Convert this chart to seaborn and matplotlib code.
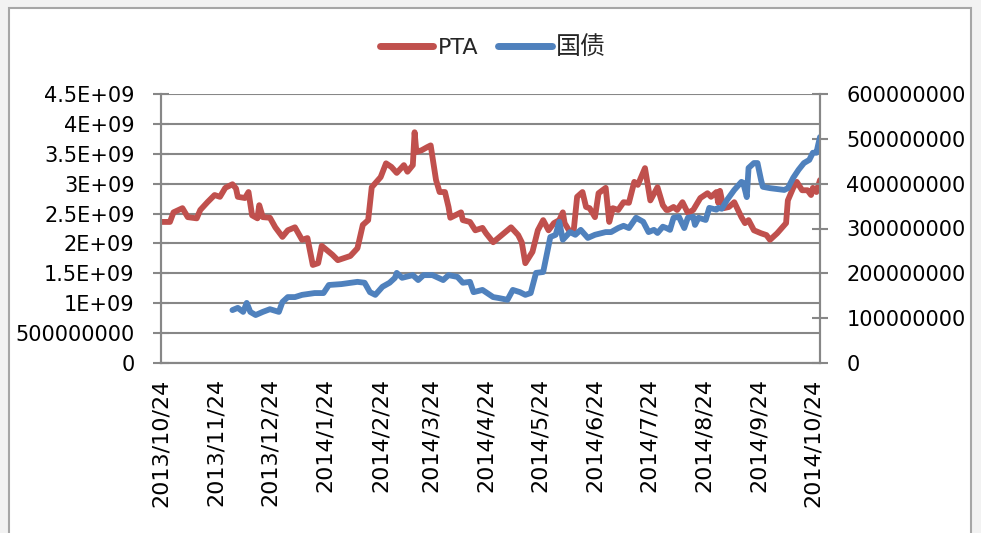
import matplotlib
matplotlib.use("Agg")
import matplotlib.pyplot as plt
from matplotlib.patches import Rectangle
import seaborn as sns
import pandas as pd

sns.set_style("white")
plt.rcParams['font.family'] = ['DejaVu Sans', 'Noto Sans CJK SC']

# PTA (left axis)
pta_dates = ['2013-10-24', '2013-10-29', '2013-10-31', '2013-11-05', '2013-11-08', '2013-11-13',
             '2013-11-15', '2013-11-19', '2013-11-23', '2013-11-26', '2013-11-29', '2013-12-03',
             '2013-12-05', '2013-12-06', '2013-12-10', '2013-12-12', '2013-12-14', '2013-12-17',
             '2013-12-18', '2013-12-20', '2013-12-24', '2013-12-27', '2013-12-31', '2014-01-03',
             '2014-01-07', '2014-01-11', '2014-01-14', '2014-01-17', '2014-01-20', '2014-01-22',
             '2014-01-26', '2014-01-28', '2014-01-31', '2014-02-07', '2014-02-11', '2014-02-14',
             '2014-02-17', '2014-02-19', '2014-02-24', '2014-02-27', '2014-03-02', '2014-03-05',
             '2014-03-09', '2014-03-11', '2014-03-14', '2014-03-15', '2014-03-16', '2014-03-19',
             '2014-03-22', '2014-03-24', '2014-03-27', '2014-03-29', '2014-04-01', '2014-04-03',
             '2014-04-04', '2014-04-10', '2014-04-11', '2014-04-15', '2014-04-18', '2014-04-22',
             '2014-04-24', '2014-04-28', '2014-05-02', '2014-05-08', '2014-05-12', '2014-05-14',
             '2014-05-16', '2014-05-20', '2014-05-23', '2014-05-26', '2014-05-29', '2014-06-01',
             '2014-06-04', '2014-06-06', '2014-06-07', '2014-06-10', '2014-06-12', '2014-06-14',
             '2014-06-17', '2014-06-19', '2014-06-21', '2014-06-24', '2014-06-26', '2014-06-30',
             '2014-07-02', '2014-07-04', '2014-07-07', '2014-07-10', '2014-07-13', '2014-07-16',
             '2014-07-18', '2014-07-22', '2014-07-25', '2014-07-29', '2014-08-01', '2014-08-03',
             '2014-08-04', '2014-08-07', '2014-08-09', '2014-08-12', '2014-08-15', '2014-08-18',
             '2014-08-22', '2014-08-26', '2014-08-28', '2014-08-31', '2014-09-01', '2014-09-02',
             '2014-09-04', '2014-09-07', '2014-09-10', '2014-09-14', '2014-09-16', '2014-09-18',
             '2014-09-21', '2014-09-25', '2014-09-28', '2014-09-30', '2014-10-04', '2014-10-09',
             '2014-10-10', '2014-10-13', '2014-10-15', '2014-10-18', '2014-10-21', '2014-10-23',
             '2014-10-24', '2014-10-26', '2014-10-28']
pta_values = [2.36, 2.36, 2.52, 2.59, 2.44, 2.42, 2.56, 2.69, 2.81, 2.78, 2.93, 2.99,
              2.92, 2.78, 2.76, 2.86, 2.47, 2.42, 2.64, 2.44, 2.43, 2.27, 2.11, 2.22,
              2.27, 2.06, 2.09, 1.64, 1.67, 1.96, 1.86, 1.81, 1.72, 1.79, 1.92, 2.31,
              2.39, 2.94, 3.11, 3.34, 3.28, 3.18, 3.31, 3.20, 3.31, 3.86, 3.53, 3.56,
              3.61, 3.64, 3.06, 2.86, 2.86, 2.61, 2.43, 2.52, 2.39, 2.36, 2.22, 2.26,
              2.17, 2.02, 2.12, 2.27, 2.14, 2.02, 1.67, 1.86, 2.22, 2.39, 2.22, 2.34,
              2.39, 2.52, 2.34, 2.19, 2.19, 2.78, 2.86, 2.61, 2.59, 2.44, 2.84, 2.93,
              2.36, 2.59, 2.56, 2.69, 2.68, 3.03, 2.98, 3.26, 2.72, 2.94, 2.64, 2.56,
              2.56, 2.61, 2.56, 2.69, 2.51, 2.56, 2.76, 2.84, 2.78, 2.86, 2.68, 2.88,
              2.59, 2.61, 2.69, 2.44, 2.34, 2.39, 2.22, 2.17, 2.14, 2.06, 2.17, 2.34,
              2.72, 2.93, 3.03, 2.89, 2.89, 2.81, 2.93, 2.86, 3.06]  # x 1e9

# 国债 (right axis)
bond_dates = ['2013-12-03', '2013-12-06', '2013-12-09', '2013-12-11', '2013-12-13', '2013-12-16',
              '2013-12-20', '2013-12-24', '2013-12-29', '2013-12-31', '2014-01-03', '2014-01-07',
              '2014-01-11', '2014-01-18', '2014-01-23', '2014-01-26', '2014-02-02', '2014-02-11',
              '2014-02-15', '2014-02-18', '2014-02-21', '2014-02-25', '2014-03-01', '2014-03-04',
              '2014-03-05', '2014-03-08', '2014-03-14', '2014-03-17', '2014-03-20', '2014-03-25',
              '2014-03-31', '2014-04-03', '2014-04-08', '2014-04-11', '2014-04-15', '2014-04-17',
              '2014-04-22', '2014-04-28', '2014-05-01', '2014-05-06', '2014-05-09', '2014-05-13',
              '2014-05-16', '2014-05-19', '2014-05-22', '2014-05-26', '2014-05-30', '2014-06-02',
              '2014-06-04', '2014-06-06', '2014-06-10', '2014-06-13', '2014-06-16', '2014-06-20',
              '2014-06-24', '2014-06-30', '2014-07-03', '2014-07-07', '2014-07-10', '2014-07-13',
              '2014-07-17', '2014-07-21', '2014-07-24', '2014-07-27', '2014-07-29', '2014-08-01',
              '2014-08-03', '2014-08-05', '2014-08-07', '2014-08-10', '2014-08-13', '2014-08-15',
              '2014-08-18', '2014-08-19', '2014-08-21', '2014-08-25', '2014-08-27', '2014-08-31',
              '2014-09-01', '2014-09-03', '2014-09-06', '2014-09-10', '2014-09-14', '2014-09-15',
              '2014-09-17', '2014-09-18', '2014-09-21', '2014-09-23', '2014-09-25', '2014-09-26',
              '2014-09-30', '2014-10-08', '2014-10-10', '2014-10-13', '2014-10-16', '2014-10-19',
              '2014-10-22', '2014-10-24', '2014-10-26', '2014-10-27', '2014-10-28']
bond_values = [118, 123, 114, 134, 114, 107, 114, 120, 114, 136, 147, 147,
               152, 156, 156, 174, 176, 181, 179, 158, 152, 170, 179, 190,
               201, 190, 196, 185, 196, 196, 185, 196, 192, 179, 181, 158,
               163, 147, 145, 141, 163, 158, 152, 156, 201, 203, 281, 286,
               315, 275, 292, 286, 297, 279, 286, 292, 292, 301, 306, 301,
               324, 315, 292, 297, 290, 304, 301, 297, 324, 326, 301, 324,
               326, 308, 324, 319, 346, 342, 346, 344, 364, 386, 404, 402,
               370, 435, 446, 446, 408, 393, 390, 386, 390, 413, 431, 446,
               453, 469, 469, 487, 504]  # x 1e6

tick_dates = ['2013-10-24', '2013-11-24', '2013-12-24', '2014-01-24', '2014-02-24', '2014-03-24',
              '2014-04-24', '2014-05-24', '2014-06-24', '2014-07-24', '2014-08-24', '2014-09-24',
              '2014-10-24']
tick_labels = ['2013/10/24', '2013/11/24', '2013/12/24', '2014/1/24', '2014/2/24', '2014/3/24',
               '2014/4/24', '2014/5/24', '2014/6/24', '2014/7/24', '2014/8/24', '2014/9/24',
               '2014/10/24']
left_ticks = [0, 0.5e9, 1e9, 1.5e9, 2e9, 2.5e9, 3e9, 3.5e9, 4e9, 4.5e9]
left_labels = ['0', '500000000', '1E+09', '1.5E+09', '2E+09', '2.5E+09', '3E+09',
               '3.5E+09', '4E+09', '4.5E+09']
right_ticks = [0, 1e8, 2e8, 3e8, 4e8, 5e8, 6e8]
right_labels = ['0', '100000000', '200000000', '300000000', '400000000', '500000000', '600000000']

pta = pd.DataFrame({'date': pd.to_datetime(pta_dates), 'v': [v * 1e9 for v in pta_values]})
bond = pd.DataFrame({'date': pd.to_datetime(bond_dates), 'v': [v * 1e6 for v in bond_values]})

red = '#c0504d'
blue = '#4f81bd'
grid_c = '#878787'

fig = plt.figure(figsize=(9.81, 5.33), dpi=100, facecolor='#f2f2f2')
fig.patches.append(Rectangle((9 / 981, -0.05), 962 / 981, 1.05 - 8 / 533, transform=fig.transFigure,
                             facecolor='white', edgecolor='#a6a6a6', linewidth=1.5, zorder=-5))
ax = fig.add_axes([161 / 981, 1 - 363 / 533, 659 / 981, 269 / 533])
ax.set_facecolor('none')
ax2 = ax.twinx()

sns.lineplot(data=pta, x='date', y='v', ax=ax, color=red, linewidth=4.2, legend=False)
sns.lineplot(data=bond, x='date', y='v', ax=ax2, color=blue, linewidth=4.2, legend=False)

ax.set_xlim(pd.Timestamp('2013-10-24'), pd.Timestamp('2014-10-28'))
ax.set_ylim(0, 4.5e9)
ax2.set_ylim(0, 6e8)

ax.set_yticks(left_ticks)
ax.set_yticklabels(left_labels)
ax2.set_yticks(right_ticks)
ax2.set_yticklabels(right_labels)
ax.set_xticks(pd.to_datetime(tick_dates))
ax.set_xticklabels(tick_labels, rotation=90)

ax.grid(axis='y', color=grid_c, linewidth=1.5)
ax.set_axisbelow(True)
for a in (ax, ax2):
    a.set_xlabel('')
    a.set_ylabel('')
    a.spines['top'].set_visible(False)
    for s in ('left', 'right', 'bottom'):
        a.spines[s].set_color(grid_c)
        a.spines[s].set_linewidth(1.5)
ax.tick_params(axis='y', direction='inout', length=12, width=1.5, color=grid_c,
               labelsize=15, pad=13, labelcolor='black')
ax.tick_params(axis='x', direction='inout', length=14, width=1.5, color=grid_c,
               labelsize=16, pad=4, labelcolor='black')
ax2.tick_params(axis='y', direction='inout', length=12, width=1.5, color=grid_c,
                labelsize=15, pad=13, labelcolor='black')

handles = [ax.lines[0], ax2.lines[0]]
leg = fig.legend(handles, ['PTA', '国债'], loc='center', ncol=2, bbox_to_anchor=(493 / 981, 1 - 47 / 533),
                 frameon=False, fontsize=16, handlelength=2.4, handletextpad=0.2, columnspacing=0.9)
leg.get_texts()[1].set_fontsize(18)
for h in leg.legend_handles:
    h.set_linewidth(5)

fig.savefig('out.png', dpi=100, facecolor=fig.get_facecolor())
